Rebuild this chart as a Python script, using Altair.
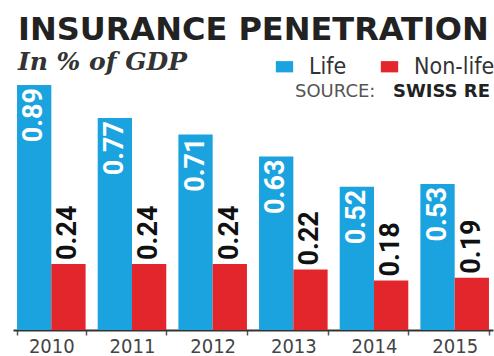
import altair as alt
import pandas as pd

years = ["2010", "2011", "2012", "2013", "2014", "2015"]
life = [0.89, 0.77, 0.71, 0.63, 0.52, 0.53]
nonlife = [0.24, 0.24, 0.24, 0.22, 0.18, 0.19]
series = ["Life", "Non-life"]
colors = ["#1aa3df", "#e3262b"]

rows = []
for i, y in enumerate(years):
    rows.append({"year": y, "type": "Life", "value": life[i]})
    rows.append({"year": y, "type": "Non-life", "value": nonlife[i]})
df = pd.DataFrame(rows)

x_enc = alt.X("year:N", title=None, sort=years,
              scale=alt.Scale(paddingInner=0.15, paddingOuter=0.05),
              axis=alt.Axis(labelAngle=0, labelFont="DejaVu Sans Condensed", labelFontSize=20,
                            labelColor="#444", labelPadding=1, tickBand="extent",
                            tickColor="#555", tickSize=5, tickWidth=1.5,
                            domainColor="#333", domainWidth=2))
xo_enc = alt.XOffset("type:N", scale=alt.Scale(domain=series))
y_enc = alt.Y("value:Q", scale=alt.Scale(domain=[0, 0.89], nice=False, zero=True), axis=None)

base = alt.Chart(df)

bars = base.mark_bar().encode(
    x=x_enc, xOffset=xo_enc, y=y_enc,
    color=alt.Color("type:N", scale=alt.Scale(domain=series, range=colors),
                    legend=alt.Legend(title=None, orient="none", legendX=260, legendY=-30,
                                      direction="horizontal", padding=0,
                                      symbolType="M-1,-0.65H1V0.65H-1Z", symbolSize=300,
                                      symbolStrokeWidth=0, symbolOpacity=1,
                                      labelFont="DejaVu Sans Condensed", labelFontSize=23,
                                      labelColor="#333", labelOffset=13, columnPadding=31)),
)

lab_font = "Roboto"
life_lab = base.transform_filter(alt.datum.type == "Life").mark_text(
    angle=270, align="right", baseline="middle", dx=-3, font=lab_font,
    fontWeight="bold", fontSize=27, color="white"
).encode(x=x_enc, xOffset=xo_enc, y=y_enc, text=alt.Text("value:Q", format=".2f"))

non_lab = base.transform_filter(alt.datum.type == "Non-life").mark_text(
    angle=270, align="left", baseline="middle", dx=4, font=lab_font,
    fontWeight="bold", fontSize=27, color="#111"
).encode(x=x_enc, xOffset=xo_enc, y=y_enc, text=alt.Text("value:Q", format=".2f"))

src1 = alt.Chart(pd.DataFrame({"t": ["SOURCE:"]})).mark_text(
    align="left", baseline="alphabetic", font="DejaVu Sans", fontSize=18, color="#555"
).encode(x=alt.value(282), y=alt.value(12), text="t:N")
src2 = alt.Chart(pd.DataFrame({"t": ["SWISS RE"]})).mark_text(
    align="right", baseline="alphabetic", font="DejaVu Sans", fontWeight="bold",
    fontSize=18, color="#222"
).encode(x=alt.value(477), y=alt.value(12), text="t:N")

chart = alt.layer(bars, life_lab, non_lab, src1, src2).properties(
    width=480, height=245,
    autosize=alt.AutoSizeParams(type="none"),
    padding={"left": 13, "top": 85, "right": 1, "bottom": 26},
    background="white",
    title=alt.TitleParams(text="INSURANCE PENETRATION", subtitle="In % of GDP",
                          anchor="start", frame="group", dx=5, offset=-21,
                          font="DejaVu Sans", fontSize=32, fontWeight="bold", color="#222",
                          subtitleFont="DejaVu Serif", subtitleFontStyle="italic",
                          subtitleFontWeight="bold",
                          subtitleFontSize=25, subtitleColor="#333", subtitlePadding=3),
).configure_view(stroke=None)

chart.save("out.html", embed_options={"renderer": "svg", "actions": False})
